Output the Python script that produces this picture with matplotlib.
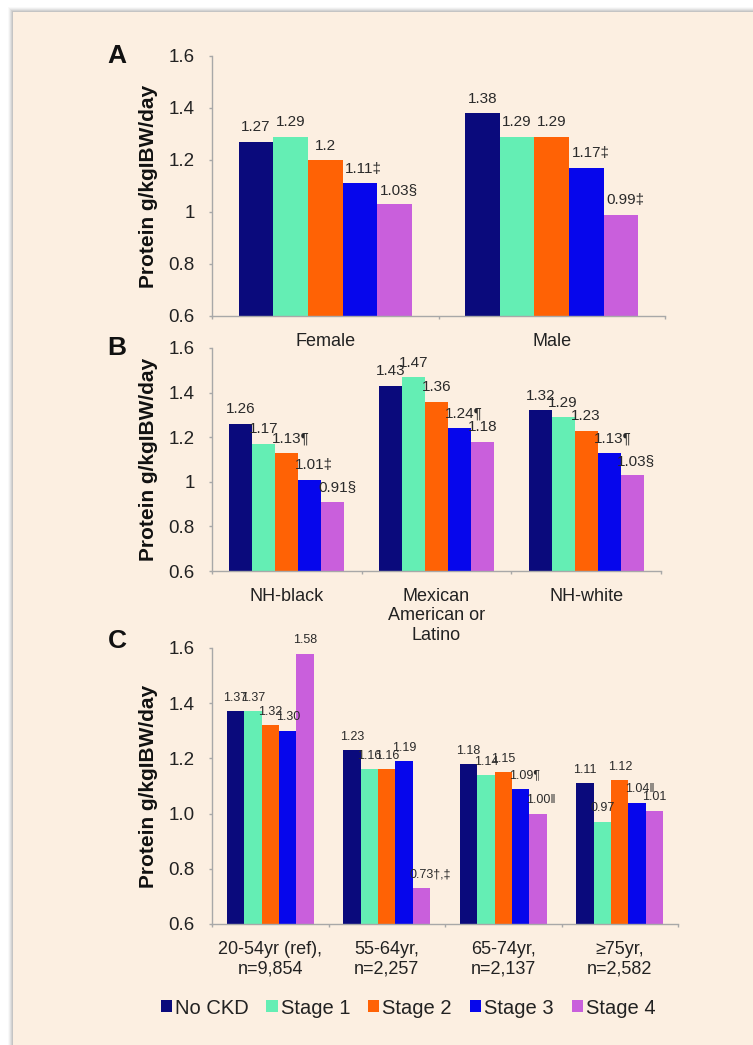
import numpy as np
import matplotlib
matplotlib.use("Agg")
import matplotlib.pyplot as plt
from matplotlib.patches import Rectangle, Patch

plt.rcParams['font.family'] = ['Liberation Sans', 'DejaVu Sans']

# --- data ---
stages = ['No CKD', 'Stage 1', 'Stage 2', 'Stage 3', 'Stage 4']
stage_colors = ['#0a0a7c', '#64eeb4', '#ff6205', '#0606ec', '#c95fdc']

sex_groups = ['Female', 'Male']
# one list per stage, values per group
sex_values = [[1.27, 1.38], [1.29, 1.29], [1.20, 1.29], [1.11, 1.17], [1.03, 0.99]]
sex_notes = [['', ''], ['', ''], ['', ''], ['‡', '‡'], ['§', '‡']]

race_groups = ['NH-black', 'Mexican\nAmerican or\nLatino', 'NH-white']
race_values = [[1.26, 1.43, 1.32], [1.17, 1.47, 1.29], [1.13, 1.36, 1.23],
               [1.01, 1.24, 1.13], [0.91, 1.18, 1.03]]
race_notes = [['', '', ''], ['', '', ''], ['¶', '', ''], ['‡', '¶', '¶'], ['§', '', '§']]

age_groups = ['20-54yr (ref),\nn=9,854', '55-64yr,\nn=2,257',
              '65-74yr,\nn=2,137', '≥75yr,\nn=2,582']
age_values = [[1.37, 1.23, 1.18, 1.11], [1.37, 1.16, 1.14, 0.97],
              [1.32, 1.16, 1.15, 1.12], [1.30, 1.19, 1.09, 1.04],
              [1.58, 0.73, 1.00, 1.01]]
age_notes = [['', '', '', ''], ['', '', '', ''], ['', '', '', ''],
             ['', '', '¶', '‖'], ['', '†,‡', '‖', '']]

yticks = [0.6, 0.8, 1.0, 1.2, 1.4, 1.6]

W, H = 753, 1045
fig = plt.figure(figsize=(W / 100, H / 100), dpi=100, facecolor='white')

# background card with a soft shadow on top / left
for k in range(5):
    a = 0.05 + 0.05 * k
    fig.patches.append(Rectangle(((8 + k) / W, 0), 1, 1 - (7 + k) / H,
                                 transform=fig.transFigure, facecolor='#9a9a9a',
                                 alpha=a, edgecolor='none', zorder=-3))
fig.patches.append(Rectangle((13 / W, 0), 1, 1 - 12 / H, transform=fig.transFigure,
                             facecolor='#fcefe1', edgecolor='none', zorder=-2))

spine_col = '#a8a8a8'
text_col = '#222222'


def num_width_em(s):
    # Arial/Liberation digit and dot advance widths
    return sum(0.556 if c.isdigit() else 0.278 for c in s)


def draw_panel(ax, groups, values, notes, fmt, label_fs, group_w, tick_labels):
    n = len(stages)
    bw = group_w / n
    x = np.arange(len(groups))
    for i, (vals, nts) in enumerate(zip(values, notes)):
        xs = x - group_w / 2 + bw * (i + 0.5)
        ax.bar(xs, vals, bw, color=stage_colors[i], edgecolor='none', zorder=2)
        for xc, v, note in zip(xs, vals, nts):
            s = fmt(v)
            dx = -label_fs * num_width_em(s) / 2   # centre the number, note hangs right
            ax.annotate(s + note, (xc, v), xytext=(dx, 7.5), textcoords='offset points',
                        ha='left', va='baseline', fontsize=label_fs, color='#2a2a2a',
                        zorder=3)
    ax.set_xlim(-0.5, len(groups) - 0.5)
    ax.set_ylim(0.6, 1.6)
    ax.set_yticks(yticks)
    ax.set_yticklabels(tick_labels)
    ax.set_xticks(x)
    ax.set_xticklabels(groups, fontsize=13, color=text_col)
    ax.set_xticks(np.arange(len(groups) + 1) - 0.5, minor=True)
    ax.tick_params(axis='x', which='major', length=0, pad=12)
    ax.tick_params(axis='x', which='minor', length=2.5, color=spine_col, width=1)
    ax.tick_params(axis='y', length=2.5, color=spine_col, width=1, labelsize=13.5,
                   labelcolor=text_col, pad=10)
    for side in ['top', 'right']:
        ax.spines[side].set_visible(False)
    for side in ['left', 'bottom']:
        ax.spines[side].set_color(spine_col)
        ax.spines[side].set_linewidth(1)
    ax.set_facecolor('none')
    ax.set_ylabel('Protein g/kgIBW/day', fontsize=15, fontweight='bold', color='#111111')


def px_axes(left, right, top, bottom):
    return fig.add_axes([left / W, 1 - bottom / H, (right - left) / W, (bottom - top) / H])


general = lambda v: '{:g}'.format(v)
two_dec = lambda v: '{:.2f}'.format(v)

axA = px_axes(212, 665, 56, 316)
draw_panel(axA, sex_groups, sex_values, sex_notes, general, 11, 0.764,
           ['0.6', '0.8', '1', '1.2', '1.4', '1.6'])
axA.yaxis.set_label_coords(-0.119, 0.5)

axB = px_axes(212, 661, 348, 571)
draw_panel(axB, race_groups, race_values, race_notes, general, 11, 0.767,
           ['0.6', '0.8', '1', '1.2', '1.4', '1.6'])
axB.yaxis.set_label_coords(-0.12, 0.5)

axC = px_axes(212, 678, 648, 924)
draw_panel(axC, age_groups, age_values, age_notes, two_dec, 9, 0.75,
           ['{:.1f}'.format(t) for t in yticks])
axC.yaxis.set_label_coords(-0.116, 0.5)

for letter, yy in [('A', 56), ('B', 348), ('C', 641)]:
    fig.text(117 / W, 1 - yy / H, letter, fontsize=19, fontweight='bold',
             ha='center', va='center', color='#111111')

handles = [Patch(facecolor=c, edgecolor='none') for c in stage_colors]
fig.legend(handles, stages, loc='center', bbox_to_anchor=(408 / W, 1 - 1008 / H),
           ncol=5, frameon=False, fontsize=14.5, handlelength=0.55, handleheight=0.55,
           handletextpad=0.15, columnspacing=0.9, labelcolor=text_col)

fig.savefig('out.png', dpi=100, facecolor=fig.get_facecolor())
